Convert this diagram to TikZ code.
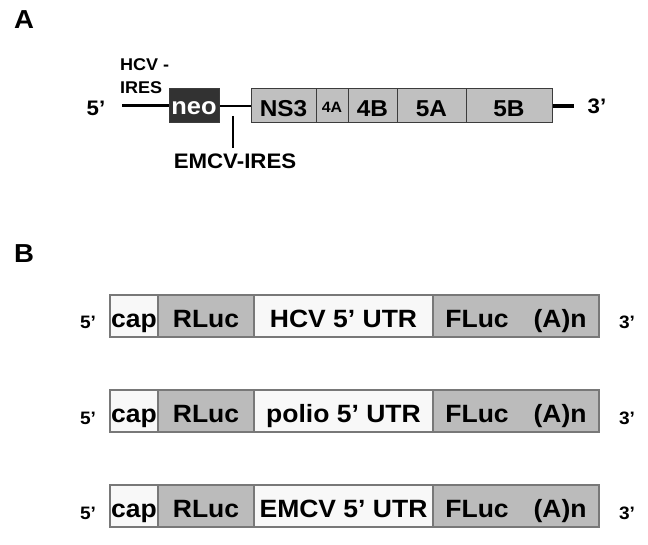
\documentclass[tikz,border=0pt]{standalone}
\usepackage{fontspec}
\setmainfont{Liberation Sans}[FakeStretch=1.06]
\usetikzlibrary{calc}

\definecolor{nsgray}{RGB}{192,192,192}
\definecolor{segline}{RGB}{60,60,60}
\definecolor{neodark}{RGB}{50,50,50}
\definecolor{celllight}{RGB}{248,248,248}
\definecolor{celldark}{RGB}{187,187,187}
\definecolor{cellline}{RGB}{120,120,120}

\begin{document}
\begin{tikzpicture}[
    x=1pt, y=-1pt,
    seg/.style={rectangle, draw=segline, line width=1pt, inner sep=0pt, minimum height=34pt, text depth=0pt},
    ns_seg/.style={seg, fill=nsgray, text height=22pt, font=\bfseries\fontsize{23}{23}\selectfont},
    neo_seg/.style={seg, fill=neodark, text=white, text height=18pt, font=\bfseries\fontsize{24}{24}\selectfont},
    cell/.style={rectangle, draw=cellline, line width=1.2pt, inner sep=0pt, minimum height=42pt, text height=23pt, text depth=0pt, font=\bfseries\fontsize{25}{25}\selectfont},
    light_cell/.style={cell, fill=celllight},
    dark_cell/.style={cell, fill=celldark},
    rna/.style={line width=3pt},
    end_label/.style={inner sep=0pt, anchor=base, font=\bfseries\fontsize{21}{21}\selectfont},
    row_label/.style={inner sep=0pt, anchor=base, font=\bfseries\fontsize{18}{18}\selectfont},
    panel_label/.style={inner sep=0pt, anchor=base west, font=\bfseries\fontsize{26}{26}\selectfont}
]
\useasboundingbox (0,0) rectangle (648,545);

% Panel A: replicon
\node[panel_label] (label_a) at (14,29) {A};

\node[neo_seg, minimum width=50pt] (neo) at (194,106) {neo};
\node[ns_seg, minimum width=65pt] (ns3) at (283.5,106) {NS3};
\node[ns_seg, minimum width=32pt, text height=14pt, font=\bfseries\fontsize{15}{15}\selectfont] (ns4a) at (332,106) {4A};
\node[ns_seg, minimum width=49pt] (ns4b) at (372.5,106) {4B};
\node[ns_seg, minimum width=69pt] (ns5a) at (431.5,106) {5A};
\node[ns_seg, minimum width=86pt] (ns5b) at (509,106) {5B};

\node[end_label] (five_a) at (96,116) {5'};
\node[end_label] (three_a) at (597,114) {3'};
\node[inner sep=0pt, anchor=north west, align=left, font=\bfseries\fontsize{17}{23}\selectfont] (hcv_ires) at (120,58) {HCV -\\IRES};
\node[inner sep=0pt, anchor=north, font=\bfseries\fontsize{21}{21}\selectfont] (emcv_ires) at (235,154) {EMCV-IRES};

\coordinate (start_a) at (122,106);
\coordinate (end_a) at (574,106);
\coordinate (emcv_pt) at (233,116);

\draw[rna] (start_a) -- (neo);
\draw[line width=2.5pt] (neo) -- (ns3);
\draw[line width=3.5pt] (ns5b) -- (end_a);
\draw[line width=1.2pt] (emcv_pt) -- ($(emcv_pt |- emcv_ires.north)+(0,-6)$);

% Panel B: bicistronic reporters
\node[panel_label] (label_b) at (14,263) {B};

% HCV
\node[light_cell, minimum width=48pt] (cap1) at (134,316) {cap};
\node[dark_cell, minimum width=96pt] (rluc1) at (206,316) {RLuc};
\node[light_cell, minimum width=179pt] (utr1) at (343.5,316) {HCV 5' UTR};
\node[dark_cell, minimum width=166pt] (fluc1) at (516,316) {FLuc\quad(A)n};
\node[row_label] (five1) at (88,329) {5'};
\node[row_label] (three1) at (627,329) {3'};

% polio
\node[light_cell, minimum width=48pt] (cap2) at (134,411) {cap};
\node[dark_cell, minimum width=96pt] (rluc2) at (206,411) {RLuc};
\node[light_cell, minimum width=179pt] (utr2) at (343.5,411) {polio 5' UTR};
\node[dark_cell, minimum width=166pt] (fluc2) at (516,411) {FLuc\quad(A)n};
\node[row_label] (five2) at (88,424) {5'};
\node[row_label] (three2) at (627,424) {3'};

% EMCV
\node[light_cell, minimum width=48pt] (cap3) at (134,506) {cap};
\node[dark_cell, minimum width=96pt] (rluc3) at (206,506) {RLuc};
\node[light_cell, minimum width=179pt] (utr3) at (343.5,506) {EMCV 5' UTR};
\node[dark_cell, minimum width=166pt] (fluc3) at (516,506) {FLuc\quad(A)n};
\node[row_label] (five3) at (88,519) {5'};
\node[row_label] (three3) at (627,519) {3'};

\end{tikzpicture}
\end{document}
